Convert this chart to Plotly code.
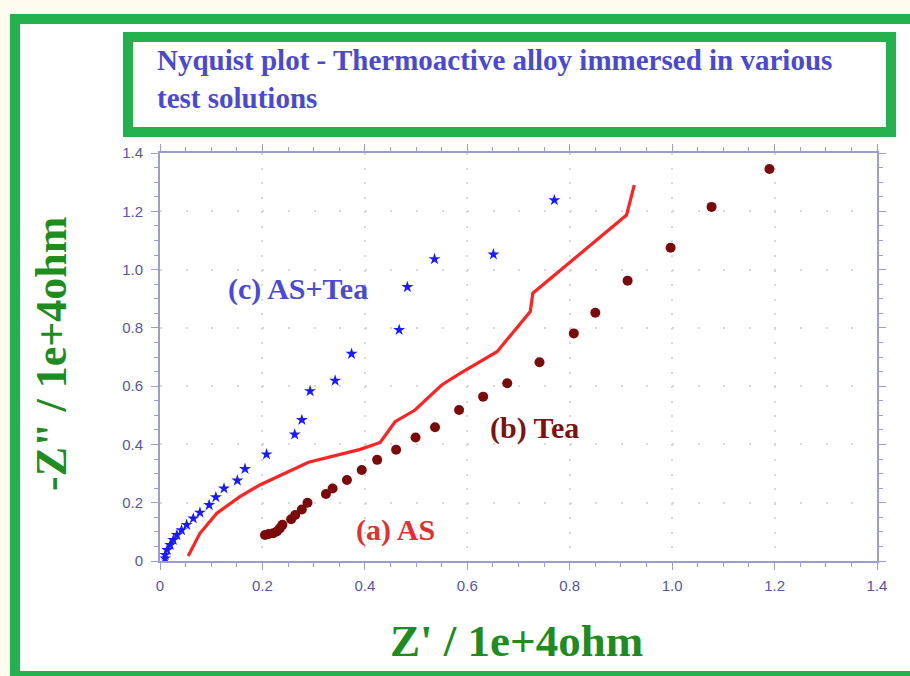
import plotly.graph_objects as go

# ---- data (Z' and -Z'' in units of 1e+4 ohm) ----
as_tea_x = [0.010, 0.010, 0.014, 0.020, 0.026, 0.033, 0.042, 0.052, 0.065, 0.078, 0.096, 0.109, 0.125,
            0.151, 0.166, 0.208, 0.263, 0.277, 0.293, 0.342, 0.374, 0.467, 0.483, 0.536, 0.651, 0.770]
as_tea_y = [0.009, 0.021, 0.038, 0.055, 0.072, 0.089, 0.106, 0.124, 0.146, 0.166, 0.192, 0.219, 0.249,
            0.276, 0.316, 0.366, 0.434, 0.484, 0.583, 0.619, 0.711, 0.793, 0.940, 1.036, 1.052, 1.238]

tea_x = [0.205, 0.212, 0.221, 0.228, 0.234, 0.239, 0.256, 0.264, 0.277, 0.288, 0.324, 0.337, 0.365,
         0.394, 0.424, 0.461, 0.499, 0.537, 0.584, 0.631, 0.678, 0.741, 0.808, 0.850, 0.913, 0.997,
         1.077, 1.190]
tea_y = [0.089, 0.093, 0.095, 0.101, 0.112, 0.124, 0.143, 0.158, 0.177, 0.200, 0.230, 0.249, 0.278,
         0.312, 0.347, 0.382, 0.424, 0.459, 0.518, 0.564, 0.610, 0.682, 0.781, 0.852, 0.962, 1.075,
         1.215, 1.345]

as_x = [0.055, 0.078, 0.111, 0.156, 0.195, 0.290, 0.391, 0.430, 0.459, 0.498, 0.550, 0.586, 0.658,
        0.690, 0.723, 0.728, 0.911, 0.926]
as_y = [0.017, 0.095, 0.164, 0.221, 0.261, 0.339, 0.383, 0.407, 0.478, 0.518, 0.604, 0.644, 0.718,
        0.787, 0.856, 0.919, 1.187, 1.290]

tick_vals = [0, 0.2, 0.4, 0.6, 0.8, 1.0, 1.2, 1.4]
tick_text = ["0", "0.2", "0.4", "0.6", "0.8", "1.0", "1.2", "1.4"]

title_line1 = "Nyquist plot - Thermoactive alloy immersed in various"
title_line2 = "test solutions"
x_title = "Z' / 1e+4ohm"
y_title = '-Z" / 1e+4ohm'

# ---- layout geometry (pixels) ----
W, H = 910, 676
L, R, T, B = 160, 33, 153, 115
PW, PH = W - L - R, H - T - B


def px(x):
    return (x - L) / PW


def py(y):
    return (H - B - y) / PH


GREEN = "#22b14c"
AXIS = "#9c9cd2"
TICKFONT = "#5555aa"

fig = go.Figure()
fig.add_trace(go.Scatter(x=as_x, y=as_y, mode="lines",
                         line=dict(color="#ff2222", width=3.2), name="(a) AS"))
fig.add_trace(go.Scatter(x=tea_x, y=tea_y, mode="markers",
                         marker=dict(symbol="circle", size=10, color="#7d0a0a"), name="(b) Tea"))
fig.add_trace(go.Scatter(x=as_tea_x, y=as_tea_y, mode="markers",
                         marker=dict(symbol="star", size=9, color="#1a1aff"), name="(c) AS+Tea"))

axis_common = dict(
    range=[0, 1.4], tickvals=tick_vals, ticktext=tick_text,
    showline=True, linecolor=AXIS, linewidth=2, mirror="ticks",
    ticks="outside", ticklen=7, tickcolor=AXIS, tickwidth=1,
    minor=dict(dtick=0.05, ticks="outside", ticklen=4, tickcolor=AXIS, showgrid=False),
    tickfont=dict(family="Liberation Sans, Arial", size=15, color=TICKFONT),
    showgrid=True, gridcolor="#d8d8d8", gridwidth=2, zeroline=False,
)

fig.update_xaxes(**axis_common, griddash="2px,12.57px", ticklabelstandoff=3)
fig.update_yaxes(**axis_common, griddash="2px,23.6px", ticklabelstandoff=5)

shapes = [
    # outer frame
    dict(type="rect", xref="paper", yref="paper", layer="below",
         x0=px(15), x1=px(930), y0=py(19), y1=py(676),
         line=dict(color=GREEN, width=10), fillcolor="white"),
    # title box
    dict(type="rect", xref="paper", yref="paper",
         x0=px(128), x1=px(891), y0=py(37), y1=py(132),
         line=dict(color=GREEN, width=10), fillcolor="white"),
]

serif = "Liberation Serif, Times New Roman, serif"


def ann(text, x, y, size, color, angle=0, xanchor="center"):
    return dict(text=text, xref="paper", yref="paper", x=px(x), y=py(y),
                xanchor=xanchor, yanchor="middle", align="left", showarrow=False,
                textangle=angle, font=dict(family=serif, size=size, color=color))


annotations = [
    ann("<b>" + title_line1 + "</b><br><b>" + title_line2 + "</b>", 155, 79, 29, "#4a4ad0",
        xanchor="left"),
    ann("<b>(c) AS+Tea</b>", 298, 289, 30, "#4a4ad6"),
    ann("<b>(b) Tea</b>", 534, 428, 30, "#7a1414"),
    ann("<b>(a) AS</b>", 395, 530, 30, "#e23030"),
    ann("<b>" + x_title + "</b>", 516, 641, 45, "#1e8c1e"),
    ann("<b>" + y_title + "</b>", 51, 354, 44, "#1e8c1e", angle=-90),
]

fig.update_layout(
    width=W, height=H,
    margin=dict(l=L, r=R, t=T, b=B, pad=0),
    paper_bgcolor="#fffcef", plot_bgcolor="white",
    showlegend=False, shapes=shapes, annotations=annotations,
)

fig.write_html("out.html", config={"displayModeBar": False},
               post_script="document.body.style.margin='0';document.body.style.overflow='hidden';")
